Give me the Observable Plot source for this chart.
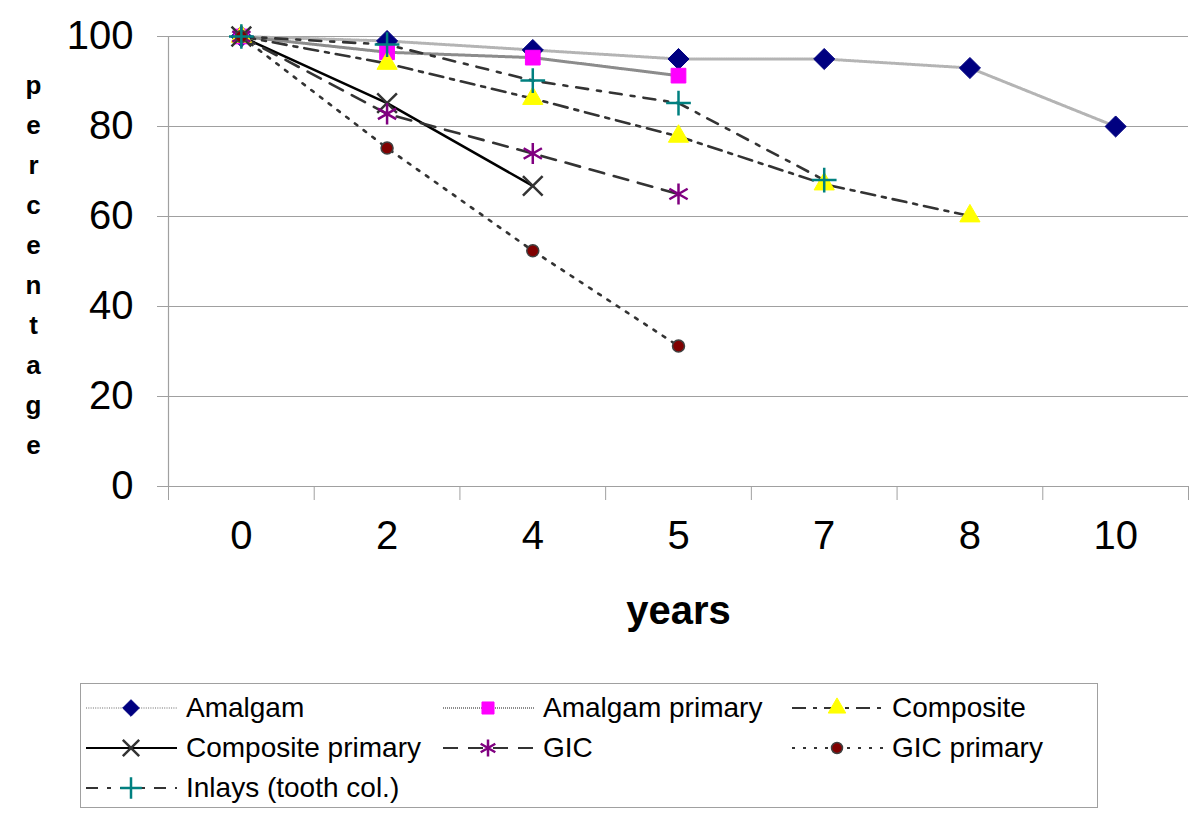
<!DOCTYPE html>
<html>
<head>
<meta charset="utf-8">
<script src="https://cdn.jsdelivr.net/npm/d3@7"></script>
<script src="https://cdn.jsdelivr.net/npm/@observablehq/plot@0.6"></script>
<style>
  body { margin: 0; background: #fff; font-family: "Liberation Sans", Arial, sans-serif; }
  #wrap { position: relative; width: 1200px; height: 823px; }
  #legend { position: absolute; left: 80px; top: 683px; width: 1018px; height: 125px;
            border: 1.5px solid #a0a0a0; box-sizing: border-box; padding: 4px 0 0 3px;
            display: grid; grid-template-columns: 357px 349px auto; grid-auto-rows: 40px; }
  .item { display: flex; align-items: center; font-size: 28px; color: #000; white-space: nowrap; }
  .item svg { margin-right: 7px; flex: none; }
</style>
</head>
<body>
<div id="wrap"><div id="chart"></div><div id="legend"></div></div>
<script>
const years = ["0", "2", "4", "5", "7", "8", "10"];
const seriesNames = ["Amalgam", "Amalgam primary", "Composite", "Composite primary", "GIC", "GIC primary", "Inlays (tooth col.)"];
const amalgam = [100, 99, 97, 95, 95, 93, 80];
const amalgamPrimary = [100, 96.5, 95.3, 91.3];
const composite = [100, 94, 86.2, 77.8, 67.2, 60.1];
const compositePrimary = [100, 85.2, 66.8];
const gic = [100, 82.8, 74, 65];
const gicPrimary = [100, 75.2, 52.4, 31.2];
const inlays = [100, 98.2, 90.2, 85.2, 68.1];
const yTicks = [0, 20, 40, 60, 80, 100];
const yLabel = "percentage";
const xLabel = "years";

const seriesValues = [amalgam, amalgamPrimary, composite, compositePrimary, gic, gicPrimary, inlays];
const styles = [
  {stroke: "#b4b4b4", width: 3, dash: "1 1.3", symbol: "diamond2", fill: "#000080", sstroke: "#000080", r: 9.5, lr: 7.5, sw: 1},
  {stroke: "#8c8c8c", width: 3, dash: "1 1", symbol: "square", fill: "#ff00ff", sstroke: "#ff00ff", r: 8.3, lr: 6.8},
  {stroke: "#333333", width: 2.6, dash: "14 7 4 7", symbol: "triangle", fill: "#ffff00", sstroke: "#ffff00", r: 7.5, lr: 6.5},
  {stroke: "#000000", width: 2.5, dash: null, symbol: "times", fill: "none", sstroke: "#333333", r: 9, lr: 7.5, sw: 2.5},
  {stroke: "#333333", width: 2.6, dash: "15 10", symbol: "asterisk", fill: "none", sstroke: "#800080", r: 10, lr: 8, sw: 2.5},
  {stroke: "#333333", width: 2.6, dash: "3 8", symbol: "circle", fill: "#800000", sstroke: "#404040", r: 6, lr: 5.5, sw: 1.5},
  {stroke: "#333333", width: 2.6, dash: "12 9 4 9", symbol: "plus", fill: "none", sstroke: "#008080", r: 8, lr: 7, sw: 2.5}
];

const data = seriesNames.map((name, k) => seriesValues[k].map((v, i) => ({series: name, i, v})));
const indices = years.map((_, i) => i);
const boundaries = d3.range(-0.5, years.length, 1);

const marks = [
  Plot.ruleY(yTicks.filter(t => t > 0), {stroke: "#a0a0a0", strokeWidth: 1.2}),
  Plot.ruleY([0], {stroke: "#a0a0a0", strokeWidth: 1.2}),
  Plot.ruleX([-0.5], {y1: 0, y2: 100, stroke: "#a0a0a0", strokeWidth: 1.2}),
  Plot.axisY({ticks: yTicks, tickSize: 11, tickPadding: 24, fontSize: 40, stroke: "#a0a0a0", fill: "#000", label: null}),
  Plot.axisX({ticks: boundaries, tickSize: 14, tickFormat: () => "", stroke: "#a0a0a0", label: null}),
  Plot.axisX({ticks: indices, tickSize: 0, tickPadding: 34, tickFormat: i => years[i], fontSize: 40, fill: "#000", label: null}),
  Plot.text([xLabel], {frameAnchor: "bottom", dy: 137, fontSize: 40, fontWeight: "bold", fill: "#000"}),
  Plot.text([yLabel.split("").join("\n")], {frameAnchor: "left", dx: -135, fontSize: 26, fontWeight: "bold", lineHeight: 1.54, fill: "#000", textAnchor: "middle"})
];
data.forEach((d, k) => {
  const s = styles[k];
  marks.push(Plot.line(d, {x: "i", y: "v", stroke: s.stroke, strokeWidth: s.width, strokeDasharray: s.dash}));
});
data.forEach((d, k) => {
  const s = styles[k];
  marks.push(Plot.dot(d, {x: "i", y: "v", symbol: () => s.symbol, r: s.r, fill: s.fill, stroke: s.sstroke, strokeWidth: s.sw || 1}));
});

const chart = Plot.plot({
  width: 1200, height: 680,
  marginLeft: 168, marginRight: 12, marginTop: 36, marginBottom: 194,
  style: {fontFamily: "'Liberation Sans', Arial, sans-serif", background: "#fff", overflow: "visible"},
  x: {domain: [-0.5, years.length - 0.5], axis: null},
  y: {domain: [0, 100], axis: null},
  symbol: {type: "identity"},
  marks
});
document.getElementById("chart").appendChild(chart);

// legend
const legend = document.getElementById("legend");
const symType = {diamond2: d3.symbolDiamond2, square: d3.symbolSquare, triangle: d3.symbolTriangle, times: d3.symbolTimes, asterisk: d3.symbolAsterisk, circle: d3.symbolCircle, plus: d3.symbolPlus};
seriesNames.forEach((name, k) => {
  const s = styles[k];
  const item = document.createElement("div");
  item.className = "item";
  const svg = d3.create("svg").attr("width", 95).attr("height", 24);
  svg.append("line").attr("x1", 2).attr("x2", 93).attr("y1", 12).attr("y2", 12)
    .attr("stroke", s.stroke).attr("stroke-width", Math.min(s.width, 2.2))
    .attr("stroke-dasharray", s.dash);
  const rr = s.lr;
  svg.append("path").attr("transform", "translate(47,12)")
    .attr("d", d3.symbol(symType[s.symbol], Math.PI * rr * rr)())
    .attr("fill", s.fill).attr("stroke", s.sstroke).attr("stroke-width", s.sw || 1);
  item.appendChild(svg.node());
  const span = document.createElement("span");
  span.textContent = name;
  item.appendChild(span);
  legend.appendChild(item);
});
</script>
</body>
</html>
